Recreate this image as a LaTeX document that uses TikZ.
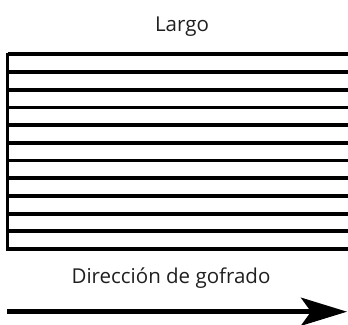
\documentclass[tikz,border=0pt]{standalone}
\usepackage{fontspec}
\setmainfont{Open Sans}
\usepackage{tikz}
\usetikzlibrary{arrows.meta}

\begin{document}
\begin{tikzpicture}[x=1pt,y=-1pt,
  stripe/.style={line width=3.8pt},
  label text/.style={font=\fontsize{20.5}{24}\selectfont,text=black!88,
    anchor=base,inner sep=0pt},
  flow arrow/.style={line width=4.5pt,
    -{Stealth[length=46pt,width=28pt,inset=10pt]}}]

  \useasboundingbox (0,0) rectangle (348,324);

  % texts
  \node[label text] (largo) at (182,31) {Largo};
  \node[label text] (dir) at (171,283) {Dirección de gofrado};

  % stripes of the sheet
  \foreach \i in {0,...,11}
    \draw[stripe] (7.5,54.3+17.7*\i) -- (350,54.3+17.7*\i);
  \draw[line width=3pt] (7.5,52.5) -- (7.5,250.8);

  % embossing direction
  \coordinate (start) at (7,311.7);
  \coordinate (end) at (347,311.7);
  \draw[flow arrow] (start) -- (end);
\end{tikzpicture}
\end{document}
